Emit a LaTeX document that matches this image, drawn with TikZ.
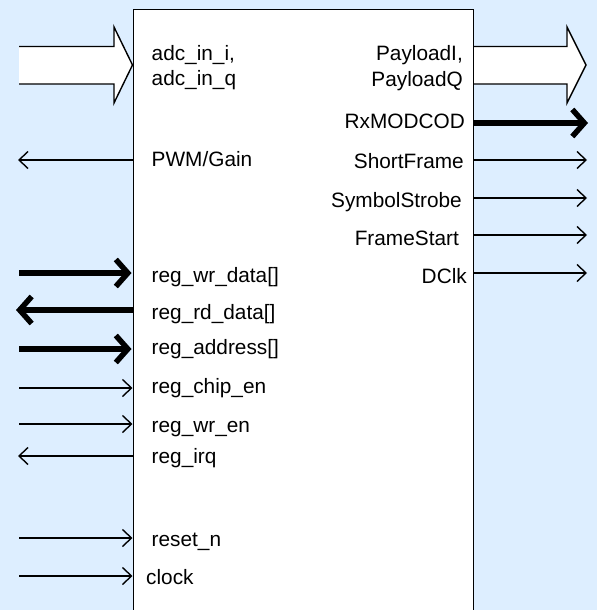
\documentclass[tikz,border=0pt]{standalone}
\usepackage{fontspec}
\setmainfont{Liberation Sans}
\usetikzlibrary{arrows.meta}
\definecolor{bgblue}{RGB}{221,238,255}
\tikzset{
  lbl/.style={inner sep=0pt, font=\fontsize{20.8}{27}\selectfont},
  lleft/.style={lbl, anchor=base west},
  lright/.style={lbl, anchor=base east, align=right},
  sig/.style={line width=1.4pt, -{Straight Barb[length=9pt,width=17pt,line width=1.4pt]}},
  bus/.style={line width=5.5pt, -{Straight Barb[length=12pt,width=27pt,line width=5.5pt]}},
}
\begin{document}
\begin{tikzpicture}[x=1pt,y=-1pt]
\fill[bgblue] (0,0) rectangle (597,610);
\useasboundingbox (0,0) rectangle (597,610);
% main block (bottom edge lies below the picture)
\node[draw, fill=white, line width=1.6pt, minimum width=340pt, minimum height=640pt, inner sep=0pt, anchor=north west] (blk) at (132.5,8.7) {};
% wide input arrow
\fill[white] (19,46.5) -- (114,46.5) -- (114,27) -- (133,65) -- (114,103) -- (114,84) -- (19,84) -- cycle;
\draw[line width=1.4pt, line join=miter] (19,46.5) -- (114,46.5) -- (114,27) -- (blk.west |- 0,65) -- (114,103) -- (114,84) -- (19,84);
% wide output arrow
\fill[white] (blk.east |- 0,46.5) -- (567,46.5) -- (567,27) -- (586,65) -- (567,103) -- (567,84) -- (blk.east |- 0,84) -- cycle;
\draw[line width=1.4pt, line join=miter] (blk.east |- 0,46.5) -- (567,46.5) -- (567,27) -- (586,65) -- (567,103) -- (567,84) -- (blk.east |- 0,84);
% left labels
\node[lleft] (adci) at (151.5,60.7) {adc\_in\_i,};
\node[lleft] (adcq) at (151.5,85.5) {adc\_in\_q};
\node[lleft] (pwm) at (151.5,166.5) {PWM/Gain};
\node[lleft] (wrd) at (151.5,282.5) {reg\_wr\_data[]};
\node[lleft] (rdd) at (151.5,319) {reg\_rd\_data[]};
\node[lleft] (addr) at (151.5,354.5) {reg\_address[]};
\node[lleft] (cen) at (151.5,393.5) {reg\_chip\_en};
\node[lleft] (wen) at (151.5,432) {reg\_wr\_en};
\node[lleft] (irq) at (151.5,463.5) {reg\_irq};
\node[lleft] (rst) at (151.5,546.5) {reset\_n};
\node[lleft] (clk) at (146,584.5) {clock};
% right labels
\node[lright] (pli) at (463,60.7) {PayloadI,};
\node[lright] (plq) at (463,86.5) {PayloadQ};
\node[lright] (rxm) at (465,128.5) {RxMODCOD};
\node[lright] (sf) at (464,168) {ShortFrame};
\node[lright] (ss) at (462,207.5) {SymbolStrobe};
\node[lright] (fs) at (459,245) {FrameStart};
\node[lright] (dclk) at (467,283) {DClk};
% free ends
\coordinate (pwmE) at (18,160);
\coordinate (wrdE) at (19,273);
\coordinate (rddE) at (16,310);
\coordinate (addrE) at (19,349);
\coordinate (cenE) at (19,388);
\coordinate (wenE) at (19,424);
\coordinate (irqE) at (18,456);
\coordinate (rstE) at (19,538);
\coordinate (clkE) at (19,576);
\coordinate (rxmE) at (588,123);
\coordinate (sfE) at (587,160);
\coordinate (ssE) at (587,198);
\coordinate (fsE) at (587,235);
\coordinate (dclkE) at (587,273);
% left connectors
\draw[sig] (blk.west |- pwmE) -- (pwmE);
\draw[bus] (wrdE) -- ([xshift=-1pt]blk.west |- wrdE);
\draw[bus] (blk.west |- rddE) -- (rddE);
\draw[bus] (addrE) -- ([xshift=-1pt]blk.west |- addrE);
\draw[sig] (cenE) -- (blk.west |- cenE);
\draw[sig] (wenE) -- (blk.west |- wenE);
\draw[sig] (blk.west |- irqE) -- (irqE);
\draw[sig] (rstE) -- (blk.west |- rstE);
\draw[sig] (clkE) -- (blk.west |- clkE);
% right connectors
\draw[bus] (blk.east |- rxmE) -- (rxmE);
\draw[sig] (blk.east |- sfE) -- (sfE);
\draw[sig] (blk.east |- ssE) -- (ssE);
\draw[sig] (blk.east |- fsE) -- (fsE);
\draw[sig] (blk.east |- dclkE) -- (dclkE);
\end{tikzpicture}
\end{document}
